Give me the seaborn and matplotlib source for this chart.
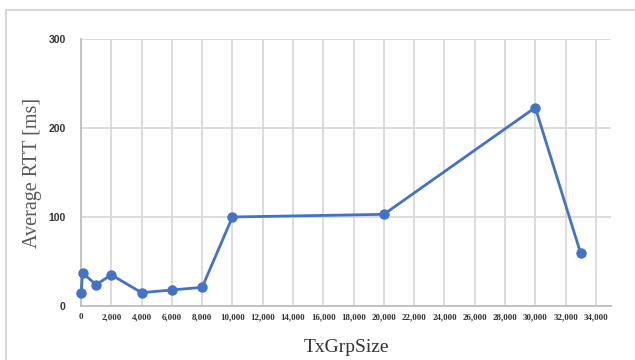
import numpy as np
import pandas as pd
import matplotlib
matplotlib.use('Agg')
import matplotlib.pyplot as plt
import seaborn as sns
from matplotlib.lines import Line2D
from matplotlib.ticker import FuncFormatter, MultipleLocator

# values
txGrpSize = [10, 100, 1000, 2000, 4000, 6000, 8000, 10000, 20000, 30000, 33000]
avgRtt = [15, 37, 24, 35, 15, 18, 21, 100, 103, 223, 59]

df = pd.DataFrame({'TxGrpSize': txGrpSize, 'AvgRTT': avgRtt})

sns.set_style('white')
plt.rcParams['font.family'] = ['Liberation Serif', 'DejaVu Serif']

fig = plt.figure(figsize=(6.35, 3.6), dpi=100)
ax = fig.add_axes([81 / 635, 1 - 306 / 360, (611 - 81) / 635, (306 - 39) / 360])

lineColor = '#4472C4'
sns.lineplot(data=df, x='TxGrpSize', y='AvgRTT', estimator=None, sort=False,
             color=lineColor, linewidth=2.0, marker='o', markersize=7.5,
             markeredgewidth=0, ax=ax, zorder=3, clip_on=False)

ax.set_xlim(0, 35000)
ax.set_ylim(0, 300)
ax.xaxis.set_major_locator(MultipleLocator(2000))
ax.yaxis.set_major_locator(MultipleLocator(100))
ax.xaxis.set_major_formatter(FuncFormatter(lambda v, p: f'{int(v):,}'))

ax.grid(True, color='#d9d9d9', linewidth=1.3)
ax.set_axisbelow(True)
for side in ['top', 'right']:
    ax.spines[side].set_visible(False)
for side in ['left', 'bottom']:
    ax.spines[side].set_color('#bfbfbf')
    ax.spines[side].set_linewidth(1.3)

ax.tick_params(axis='both', length=0)
ax.tick_params(axis='y', pad=11)
ax.tick_params(axis='x', pad=5)
for lab in ax.get_yticklabels():
    lab.set_family(['Liberation Sans', 'DejaVu Sans'])
    lab.set_fontweight('bold')
    lab.set_fontsize(7.5)
    lab.set_color('#333333')
for lab in ax.get_xticklabels():
    lab.set_fontweight('bold')
    lab.set_fontsize(6.5)
    lab.set_color('#333333')

ax.set_xlabel('TxGrpSize', fontsize=14, color='#333333', labelpad=13)
ax.set_ylabel('Average RTT [ms]', fontsize=14.5, color='#595959', labelpad=5)

# chart frame (light gray, cut by the image edges on right and bottom)
fig.add_artist(Line2D([5.5 / 635, 5.5 / 635], [0, 1 - 10 / 360],
                      transform=fig.transFigure, color='#d9d9d9', linewidth=1.5))
fig.add_artist(Line2D([5.5 / 635, 1], [1 - 10 / 360, 1 - 10 / 360],
                      transform=fig.transFigure, color='#d9d9d9', linewidth=1.5))

fig.savefig('out.png', dpi=100)
